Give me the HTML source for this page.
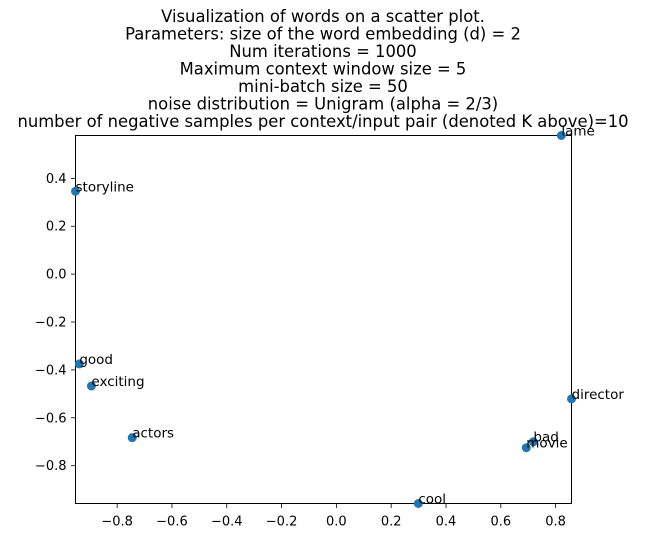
<!DOCTYPE html>
<html><head><meta charset="utf-8"><style>
body{margin:0;background:#fff;}
svg{font-family:"DejaVu Sans","Liberation Sans",sans-serif;}
</style></head><body>
<svg id="chart" width="646" height="538">
<g id="title" font-size="16.4" text-anchor="middle" fill="#000">
<text x="323" y="22">Visualization of words on a scatter plot.</text>
<text x="323" y="39.5">Parameters: size of the word embedding (d) = 2</text>
<text x="323" y="57">Num iterations = 1000</text>
<text x="323" y="74.5">Maximum context window size = 5</text>
<text x="323" y="92">mini-batch size = 50</text>
<text x="323" y="109.5">noise distribution = Unigram (alpha = 2/3)</text>
<text x="323" y="127">number of negative samples per context/input pair (denoted K above)=10</text>
</g>
<g id="axes"></g>
<g id="points"></g>
</svg>
<script>
const words = ["storyline","lame","good","exciting","actors","director","bad","movie","cool"];
const xs = [-0.952,0.821,-0.938,-0.894,-0.745,0.858,0.719,0.693,0.299];
const ys = [0.346,0.579,-0.375,-0.467,-0.683,-0.521,-0.700,-0.725,-0.958];
const xTicks = [-0.8,-0.6,-0.4,-0.2,0.0,0.2,0.4,0.6,0.8];
const yTicks = [0.4,0.2,0.0,-0.2,-0.4,-0.6,-0.8];
const L=75.5,R=571.5,T=135.5,B=503.5;
const xMin=-0.952,xMax=0.858,yMin=-0.958,yMax=0.579;
const sx=v=>L+(v-xMin)/(xMax-xMin)*(R-L);
const sy=v=>B-(v-yMin)/(yMax-yMin)*(B-T);
const NS="http://www.w3.org/2000/svg";
const ax=document.getElementById('axes'), pts=document.getElementById('points');
function mk(tag,attrs,parent){const e=document.createElementNS(NS,tag);for(const k in attrs)e.setAttribute(k,attrs[k]);parent.appendChild(e);return e;}
xTicks.forEach(t=>{
  const x=sx(t);
  const l=mk('line',{x1:x,x2:x,y1:B,y2:B+4.5,stroke:'#000','stroke-width':0.8},ax);
  
  
  const tx=mk('text',{x:x,y:B+22,'font-size':13,'text-anchor':'middle'},ax);
  tx.textContent=(t<0?'\u2212':'')+Math.abs(t).toFixed(1);
  
  
});
yTicks.forEach(t=>{
  const y=sy(t);
  const l=mk('line',{x1:L-4.5,x2:L,y1:y,y2:y,stroke:'#000','stroke-width':0.8},ax);
  
  
  const tx=mk('text',{x:L-9,y:y+4.5,'font-size':13,'text-anchor':'end'},ax);
  tx.textContent=(t<0?'\u2212':'')+Math.abs(t).toFixed(1);
  
  
});
words.forEach((w,i)=>{
  const c=mk('circle',{cx:sx(xs[i]),cy:sy(ys[i]),r:4.5,fill:'#1f77b4'},pts);
  
  
});
words.forEach((w,i)=>{
  const t=mk('text',{x:sx(xs[i]),y:sy(ys[i]),'font-size':13.5,fill:'#000'},pts);
  t.textContent=w;
  
  
});
const fr=mk('rect',{x:L,y:T,width:R-L,height:B-T,fill:'none',stroke:'#000','stroke-width':1},ax);


</script>
</body></html>
